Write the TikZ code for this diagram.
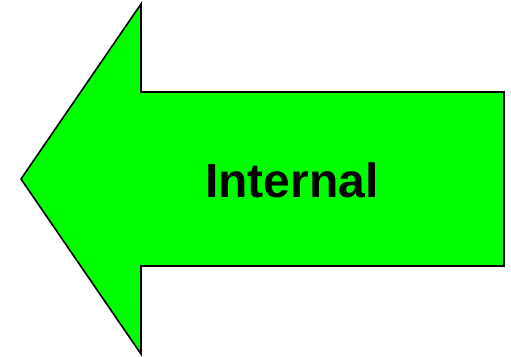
\documentclass[tikz,border=0pt]{standalone}
\usepackage{fontspec}
\setmainfont{Liberation Sans}
\definecolor{arrowgreen}{HTML}{00FF00}

\begin{document}
\begin{tikzpicture}[x=1pt, y=-1pt]
\useasboundingbox (0,0) rectangle (511,356);

% ---- big left arrow
\draw[fill=arrowgreen, draw=black, line width=1.6pt, line join=miter]
      (21,179) -- (141,4) -- (141,92) -- (504,92) -- (504,266)
      -- (141,266) -- (141,354) -- cycle;

% ---- label
\node[font=\fontsize{48}{52}\selectfont\bfseries, inner sep=0] (label) at (292,180) {Internal};

\end{tikzpicture}
\end{document}
